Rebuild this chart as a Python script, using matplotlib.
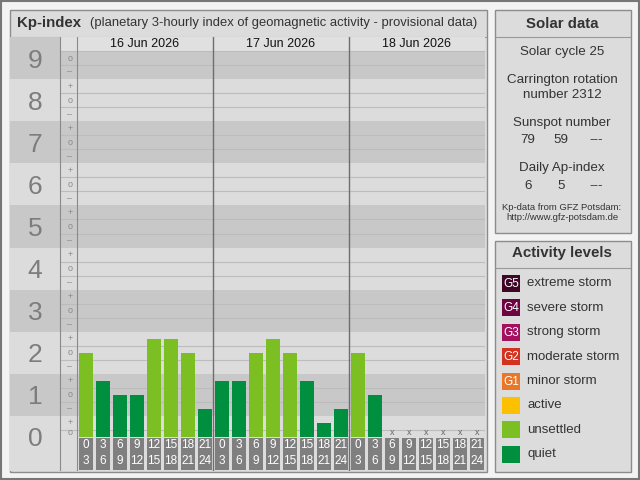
import numpy as np
import matplotlib
matplotlib.use("Agg")
import matplotlib.pyplot as plt
from matplotlib.patches import Rectangle

plt.rcParams["font.family"] = ["Liberation Sans", "DejaVu Sans"]

# ---------------------------------------------------------------------
# Data
# ---------------------------------------------------------------------
days = ["16 Jun 2026", "17 Jun 2026", "18 Jun 2026"]
kp_codes = [
    "2o", "1+", "1o", "1o", "2+", "2+", "2o", "1-",   # 16 Jun
    "1+", "1+", "2o", "2+", "2o", "1+", "0+", "1-",   # 17 Jun
    "2o", "1o", None, None, None, None, None, None,   # 18 Jun (provisional)
]
hour_start = [0, 3, 6, 9, 12, 15, 18, 21] * 3
hour_end = [3, 6, 9, 12, 15, 18, 21, 24] * 3

solar_cycle = 25
carrington = 2312
sunspot = ["79", "59", "---"]
ap_index = ["6", "5", "---"]

level_names = ["extreme storm", "severe storm", "strong storm", "moderate storm",
               "minor storm", "active", "unsettled", "quiet"]
level_codes = ["G5", "G4", "G3", "G2", "G1", "", "", ""]
level_colors = ["#3f0626", "#6c0440", "#a3105e", "#d2321f", "#e8772a",
                "#fcc000", "#7bbf22", "#008f3f"]


def kp_to_num(code):
    if code is None:
        return np.nan
    off = {"+": 1 / 3, "o": 0.0, "-": -1 / 3}[code[1]]
    return int(code[0]) + off


kp = np.array([kp_to_num(c) for c in kp_codes])


def kp_color(v):
    if v >= 5 - 0.5:
        return level_colors[4]
    if v >= 4 - 0.5:
        return level_colors[5]
    if v >= 2 - 0.5:
        return level_colors[6]
    return level_colors[7]


# ---------------------------------------------------------------------
# Figure / background panels (pixel coordinates)
# ---------------------------------------------------------------------
fig = plt.figure(figsize=(6.4, 4.8), dpi=100)
fig.patch.set_facecolor("#f3f3f3")
bg = fig.add_axes([0, 0, 1, 1])
bg.set_xlim(0, 640)
bg.set_ylim(480, 0)
bg.axis("off")

panel_fc = "#dcdcdc"
panel_ec = "#8c8c8c"
txt = "#333333"


def box(x0, y0, x1, y1, fc=panel_fc, ec=panel_ec, lw=1.0):
    bg.add_patch(Rectangle((x0, y0), x1 - x0, y1 - y0, fc=fc, ec=ec, lw=lw))


box(0.7, 0.7, 639.3, 478.5, fc="none", ec="#777777", lw=1.5)

# Kp panel
box(9.5, 9.5, 486.5, 471.5)
bg.plot([10, 486], [37, 37], color="#999999", lw=0.8)
bg.text(17, 23, "Kp-index", fontsize=10.8, fontweight="bold", color=txt, va="center")
bg.text(90, 23, "(planetary 3-hourly index of geomagnetic activity - provisional data)",
        fontsize=9.4, color=txt, va="center")

# Solar data panel
box(494.5, 9.5, 630.5, 232.5)
bg.plot([495, 630], [37, 37], color="#999999", lw=0.8)
bg.text(562, 24, "Solar data", fontsize=10.8, fontweight="bold", color=txt,
        ha="center", va="center")
bg.text(562, 52, f"Solar cycle {solar_cycle}", fontsize=9.6, color=txt, ha="center", va="center")
bg.text(562, 80, "Carrington rotation", fontsize=9.6, color=txt, ha="center", va="center")
bg.text(562, 95, f"number {carrington}", fontsize=9.6, color=txt, ha="center", va="center")
bg.text(562, 123, "Sunspot number", fontsize=9.6, color=txt, ha="center", va="center")
bg.text(562, 168, "Daily Ap-index", fontsize=9.6, color=txt, ha="center", va="center")
for xc, s, a in zip([528, 561, 596], sunspot, ap_index):
    bg.text(xc, 140, s, fontsize=9.6, color=txt, ha="center", va="center")
    bg.text(xc, 186, a, fontsize=9.6, color=txt, ha="center", va="center")
bg.text(562, 208, "Kp-data from GFZ Potsdam:", fontsize=6.8, color=txt, ha="center", va="center")
bg.text(562, 218, "http://www.gfz-potsdam.de", fontsize=6.8, color=txt, ha="center", va="center")

# Activity levels panel
box(494.5, 240.5, 630.5, 471.5)
bg.plot([495, 630], [268, 268], color="#999999", lw=0.8)
bg.text(562, 253, "Activity levels", fontsize=10.8, fontweight="bold", color=txt,
        ha="center", va="center")
for i, (name, code, col) in enumerate(zip(level_names, level_codes, level_colors)):
    yc = 283.5 + i * 24.4
    bg.add_patch(Rectangle((502, yc - 8.5), 18, 17, fc=col, ec="none"))
    if code:
        bg.text(511, yc + 0.5, code, fontsize=8.5, color="white", ha="center", va="center")
    bg.text(527, yc, name, fontsize=9.5, color=txt, va="center")

# ---------------------------------------------------------------------
# Kp chart axes: x in 3-hour slots, y in Kp units
# ---------------------------------------------------------------------
px = 17.0      # pixels per slot
py = 42.1      # pixels per Kp unit
x_left, x_right, y_top, y_bottom = 10, 485, 37, 471
ax = fig.add_axes([x_left / 640, (480 - y_bottom) / 480,
                   (x_right - x_left) / 640, (y_bottom - y_top) / 480])
x_min = (x_left - 77) / px
y_min = (437 - y_bottom) / py
y_max = (437 - y_top) / py
ax.set_xlim(x_min, 24)
ax.set_ylim(y_min, y_max)
ax.axis("off")
ax.patch.set_visible(False)

dark, light = "#c8c8c8", "#dcdcdc"
plot_top = 9 + 1 / 6
for n in range(10):
    c = dark if n % 2 else light
    lo = y_min if n == 0 else n - 0.5
    ax.fill_between([x_min, -1], lo, min(n + 0.5, y_max), color=c, lw=0)
    ax.fill_between([-1, 24], lo, min(n + 0.5, plot_top), color=c, lw=0)
ax.fill_between([-1, 24], plot_top, y_max, color="#e0e0e0", lw=0)

# thin grid between the thirds
for n in range(10):
    for off in (-1 / 6, 1 / 6):
        y = n + off
        if 0 < y <= plot_top + 1e-6:
            ax.plot([-1, 24], [y, y], color="#bcbcbc", lw=0.8)

# column separators and day dividers
for xv in (-1, 0):
    ax.plot([xv, xv], [y_min, y_max], color="#8a8a8a", lw=0.8)
for xv in (8, 16):
    ax.plot([xv, xv], [y_min, y_max], color="#6e6e6e", lw=1.0)

# big Kp numbers and +/o/- marks
for n in range(10):
    ax.text(-2.47, n, str(n), fontsize=19, color="#7d7d7d", ha="center",
            va="center_baseline")
    for sym, off in (("+", 1 / 3), ("o", 0.0), ("\u2013", -1 / 3)):
        if (n == 9 and sym == "+") or (n == 0 and sym == "\u2013"):
            continue
        yv = n + off if not (n == 0 and sym == "o") else 0.1
        ax.text(-0.42, yv, sym, fontsize=6.5, color="#8a8a8a", ha="center", va="center")

# day labels
for d, day in enumerate(days):
    ax.text(d * 8 + 4, 9.34, day, fontsize=9, color="#111111", ha="center", va="center")

# bars
slots = np.arange(len(kp))
valid = ~np.isnan(kp)
ax.bar(slots[valid] + 0.53, kp[valid], width=0.82,
       color=[kp_color(v) for v in kp[valid]], zorder=3)
for s in slots[~valid]:
    ax.text(s + 0.53, 0.1, "x", fontsize=6.5, color="#666666", ha="center", va="center")

# hour boxes below the bars
ax.bar(slots + 0.53, -0.76, bottom=-0.025, width=0.82, color="#7f7f7f", zorder=3)
for s, h0, h1 in zip(slots, hour_start, hour_end):
    ax.text(s + 0.53, -0.19, str(h0), fontsize=8.5, color="white", ha="center",
            va="center", zorder=4)
    ax.text(s + 0.53, -0.57, str(h1), fontsize=8.5, color="white", ha="center",
            va="center", zorder=4)

fig.savefig("out.png", dpi=100, facecolor=fig.get_facecolor())
